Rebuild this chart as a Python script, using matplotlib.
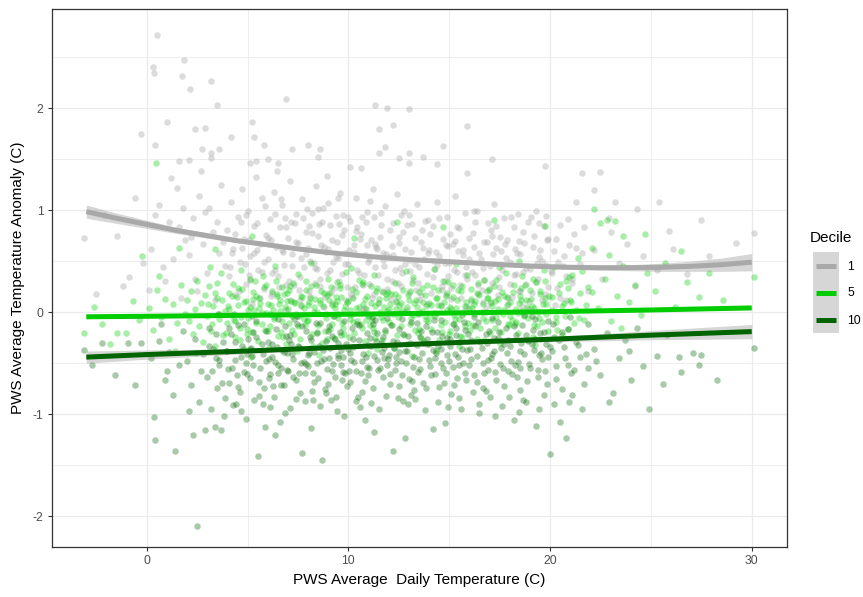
import numpy as np
import matplotlib
matplotlib.use("Agg")
import matplotlib.pyplot as plt
from matplotlib.patches import Rectangle

plt.rcParams['font.family'] = ['Liberation Sans', 'DejaVu Sans']
plt.rcParams['axes.unicode_minus'] = False

# ---------------- data ----------------
deciles = ["1", "5", "10"]
colors = {"1": "#A9A9A9", "5": "#00CD00", "10": "#006400"}

points_d1 = """
0.5,2.72 0.3,2.40 0.35,2.34 1.85,2.47 1.75,2.31 3.2,2.26 2.15,2.19 3.5,2.03 6.9,2.09 11.3,2.03 11.9,2.00 13.0,1.99
-0.3,1.75 1.0,1.86 5.2,1.86 2.4,1.79 2.9,1.80 0.4,1.64 4.2,1.72 11.5,1.79 12.2,1.83 11.8,1.62 11.5,1.56 15.9,1.82
14.7,1.63 13.7,1.52 17.1,1.50 14.4,1.45 19.75,1.43 15.9,1.36 21.6,1.36 22.5,1.37 22.2,1.20 25.4,1.08 21.3,1.08
23.2,1.08 27.5,0.90 30.1,0.78 25.9,0.80 24.3,1.01
2.75,1.6 3.2,1.56 3.6,1.6 5.8,1.64 7.2,1.6 8.0,1.64 8.6,1.6 8.5,1.52 5.3,1.72 6.0,1.5 6.5,1.46 5.4,1.48 5.1,1.46
1.6,1.48 2.1,1.49 3.2,1.51 12.5,1.51 13.0,1.56 13.0,1.46 10.6,1.41 10.1,1.42
-3.1,0.73 -2.5,0.18 -1.5,0.75 -1.2,0.26 -0.9,0.34 -2.1,0.95 -0.6,1.12 -0.2,0.48
0.2,0.62 0.6,1.05 0.9,0.31 1.1,0.88 1.3,0.52 1.5,1.22 1.7,0.14 0.4,0.95 1.9,0.71 0.8,0.44 1.2,1.31 1.6,0.83 0.1,0.22 1.8,1.02
2.1,0.56 2.3,0.92 2.5,0.21 2.6,1.14 2.8,0.67 3.0,0.38 3.1,1.02 3.3,0.79 3.4,0.12 3.6,0.58 3.7,1.25 3.9,0.45 2.2,0.74
2.9,0.98 3.5,0.88 2.4,0.33 3.8,0.69 2.7,1.38
4.0,0.81 4.1,0.35 4.2,1.08 4.3,0.62 4.4,0.17 4.5,0.93 4.6,0.49 4.7,1.21 4.8,0.72 4.9,0.28 5.0,0.99 5.1,0.55 5.2,0.08
5.3,0.84 5.4,1.32 5.5,0.41 5.6,0.67 5.7,1.12 5.8,0.23 5.9,0.76 4.25,0.58 4.65,0.88 5.05,0.36 5.45,0.61 5.85,1.04 4.85,0.47
6.0,0.52 6.1,0.91 6.2,0.19 6.3,1.18 6.4,0.64 6.5,0.35 6.6,0.83 6.7,1.05 6.8,0.46 6.9,0.02 7.0,0.73 7.1,1.29 7.2,0.57
7.3,0.27 7.4,0.96 7.5,0.68 7.6,0.12 7.7,1.11 7.8,0.44 7.9,0.79 6.15,0.71 6.45,1.38 6.75,0.59 7.05,0.31 7.35,0.87
7.65,0.53 7.95,1.01 6.35,0.41 6.85,0.92 7.55,0.22
8.0,0.63 8.1,0.16 8.2,0.97 8.3,0.48 8.4,1.24 8.5,0.75 8.6,0.33 8.7,0.88 8.8,0.05 8.9,0.59 9.0,1.07 9.1,0.41 9.2,0.71
9.3,0.24 9.4,0.94 9.5,0.53 9.6,1.17 9.7,0.37 9.8,0.81 9.9,0.12 8.05,0.84 8.35,0.29 8.65,0.66 8.95,1.33 9.25,0.49
9.55,0.86 9.85,0.58 8.45,0.42 8.75,1.02 9.15,0.19 9.45,0.69 9.75,0.95
10.0,0.47 10.1,0.89 10.2,0.15 10.3,0.66 10.4,1.12 10.5,0.38 10.6,0.77 10.7,0.03 10.8,0.56 10.9,0.98 11.0,0.28
11.1,0.71 11.2,1.21 11.3,0.44 11.4,0.62 11.5,0.09 11.6,0.85 11.7,0.51 11.8,1.04 11.9,0.33 10.05,0.61 10.35,0.25
10.65,0.93 10.95,0.49 11.25,0.18 11.55,0.74 11.85,0.57 10.45,0.83 10.75,0.36 11.05,1.09 11.35,0.64 11.65,0.21
12.0,0.54 12.1,0.13 12.2,0.87 12.3,0.41 12.4,1.16 12.5,0.68 12.6,0.26 12.7,0.79 12.8,0.47 12.9,0.02 13.0,0.95
13.1,0.59 13.2,0.32 13.3,0.73 13.4,1.06 13.5,0.44 13.6,0.17 13.7,0.63 13.8,0.89 13.9,0.37 12.15,0.65 12.45,0.29
12.75,0.99 13.05,0.51 13.35,0.22 13.65,0.81 13.95,0.58 12.55,0.43
14.0,0.61 14.1,0.19 14.2,0.84 14.3,0.42 14.4,1.08 14.5,0.55 14.6,0.07 14.7,0.72 14.8,0.31 14.9,0.93 15.0,0.48
15.1,0.24 15.2,0.67 15.3,1.14 15.4,0.39 15.5,0.82 15.6,0.14 15.7,0.56 15.8,0.97 15.9,0.33 14.25,0.5 14.65,0.26
15.05,0.77 15.45,0.6 15.85,0.44 14.85,0.66
16.0,0.52 16.1,0.11 16.2,0.78 16.3,0.36 16.4,0.99 16.5,0.58 16.6,0.22 16.7,0.69 16.8,0.04 16.9,0.87 17.0,0.45
17.1,0.29 17.2,1.06 17.3,0.63 17.4,0.17 17.5,0.74 17.6,0.41 17.7,0.92 17.8,0.53 17.9,0.08 16.25,0.64 16.65,0.43
17.05,0.81 17.45,0.34 17.85,0.71 16.45,0.27
18.0,0.49 18.1,0.15 18.2,0.83 18.3,0.37 18.4,0.96 18.5,0.57 18.6,0.06 18.7,0.68 18.8,0.28 18.9,0.88 19.0,0.42
19.1,0.19 19.2,0.75 19.3,0.99 19.4,0.33 19.5,0.61 19.6,0.12 19.7,0.84 19.8,0.46 19.9,0.25 18.25,0.62 18.65,0.39
19.05,0.93 19.45,0.54 19.85,0.71 18.45,0.21
20.1,0.38 20.3,0.72 20.5,0.14 20.7,0.55 20.9,0.91 21.1,0.29 21.3,0.63 21.5,0.47 21.7,0.83 21.9,0.21 20.4,0.49
20.8,0.35 21.2,0.77 21.6,0.58
22.2,0.61 22.6,0.33 23.0,0.79 23.4,0.48 23.8,0.67 24.2,0.26 24.6,0.55 22.9,0.92
25.3,0.41 26.1,0.62 26.8,0.37 27.9,0.55 29.2,0.68
4.15,0.44 4.38,0.77 4.55,0.21 4.72,0.63 4.93,0.95 5.12,0.32 5.33,0.58 5.48,0.87 5.62,0.14 5.81,0.49
6.03,0.73 6.22,0.38 6.38,0.96 6.57,0.25 6.71,0.61 6.92,0.83 7.08,0.12 7.22,0.45 7.41,0.69 7.58,0.34
7.73,0.92 7.88,0.57 8.03,0.21 8.18,0.78 8.32,0.43 8.47,1.01 8.61,0.26 8.78,0.64 8.92,0.38 9.07,0.85
9.21,0.09 9.36,0.54 9.52,0.31 9.67,0.76 9.81,0.47 9.96,0.93 10.11,0.18 10.26,0.59 10.41,0.41 10.57,0.72
10.72,0.27 10.87,0.88 11.02,0.52 11.17,0.14 11.32,0.67 11.48,0.36 11.63,0.97 11.78,0.45 11.93,0.23 12.08,0.81
12.23,0.56 12.38,0.11 12.53,0.74 12.68,0.38 12.83,0.62 12.98,0.19 13.13,0.86 13.28,0.47 13.43,0.29 13.58,0.69
13.73,0.52 13.88,0.08 14.03,0.77 14.18,0.34 14.33,0.59 14.48,0.92 14.63,0.22 14.78,0.48 14.93,0.65 15.08,0.13
15.23,0.41 15.38,0.83 15.53,0.27 15.68,0.61 15.83,0.05 15.98,0.73 16.13,0.39 16.28,0.88 16.43,0.18 16.58,0.52
16.73,0.32 16.88,0.69 17.03,0.09 17.18,0.57 17.33,0.84 17.48,0.25 17.63,0.46 17.78,0.67 17.93,0.14 18.08,0.93
18.23,0.36 18.38,0.58 18.53,0.21 18.68,0.79 18.83,0.43 18.98,0.11 19.13,0.64 19.28,0.3 19.43,0.87 19.58,0.5
19.73,0.18 19.88,0.72 20.03,0.4 20.18,0.6 20.33,0.24 20.48,0.85 20.63,0.45 20.78,0.12 20.93,0.66 21.08,0.33
5.06,0.71 5.71,0.39 6.14,0.16 6.66,1.11 7.16,0.88 7.66,0.06 8.11,0.5 8.56,0.86 9.01,0.62 9.46,1.12
9.91,0.25 10.36,0.8 10.81,0.04 11.26,0.93 11.71,0.58 12.16,0.31 12.61,0.95 13.06,0.4 13.51,0.12 13.96,0.9
14.41,0.46 14.86,0.17 15.31,0.7 15.76,0.36 16.21,0.99 16.66,0.1 17.11,0.75 17.56,0.6 18.01,0.28 18.46,0.7
18.91,0.03 19.36,0.48 19.81,0.94 20.26,0.07 6.88,0.27 8.84,0.15 10.93,0.66 12.91,0.85 14.96,0.35 16.95,0.22
"""

points_d5 = """
-3.1,-0.2 -2.6,0.05 -2.2,-0.12 -1.5,-0.2 -1.05,-0.2 -0.7,0.11 -0.4,-0.08 -1.8,-0.31
0.1,0.04 0.3,-0.17 0.5,0.22 0.7,-0.05 0.9,0.13 1.1,-0.26 1.3,0.08 1.5,-0.11 1.7,0.27 1.9,-0.02 0.6,0.35 1.4,-0.38
2.0,0.12 2.1,-0.09 2.2,0.21 2.3,-0.21 2.4,0.03 2.5,0.31 2.6,-0.14 2.7,0.09 2.8,-0.29 2.9,0.17 3.0,-0.04 3.1,0.26
3.2,-0.18 3.3,0.06 3.4,-0.33 3.5,0.14 3.6,-0.07 3.7,0.38 3.8,-0.22 3.9,0.01 2.45,-0.4 3.15,0.44
4.0,-0.11 4.1,0.19 4.2,-0.03 4.3,0.28 4.4,-0.24 4.5,0.07 4.6,-0.15 4.7,0.23 4.8,-0.36 4.9,0.11 5.0,-0.06 5.1,0.33
5.2,-0.19 5.3,0.02 5.4,0.16 5.5,-0.28 5.6,0.09 5.7,-0.12 5.8,0.25 5.9,-0.01 4.05,0.06 4.35,-0.08 4.65,0.41
4.95,-0.21 5.25,0.13 5.55,0.04 5.85,-0.17 4.45,0.15 5.15,-0.44 5.75,0.35
6.0,0.08 6.1,-0.14 6.2,0.21 6.3,-0.05 6.4,0.31 6.5,-0.23 6.6,0.12 6.7,-0.09 6.8,0.18 6.9,-0.31 7.0,0.03 7.1,0.26
7.2,-0.17 7.3,0.1 7.4,-0.02 7.5,0.37 7.6,-0.26 7.7,0.15 7.8,-0.07 7.9,0.22 6.05,-0.35 6.25,0.02 6.45,0.16
6.65,-0.19 6.85,0.05 7.05,-0.11 7.25,0.29 7.45,-0.38 7.65,0.07 7.85,-0.13 6.35,0.45 6.95,0.19 7.55,-0.04 7.15,0.11
8.0,-0.08 8.1,0.14 8.2,-0.21 8.3,0.05 8.4,0.27 8.5,-0.13 8.6,0.09 8.7,-0.3 8.8,0.19 8.9,-0.02 9.0,0.33 9.1,-0.16
9.2,0.07 9.3,-0.25 9.4,0.15 9.5,-0.06 9.6,0.24 9.7,-0.11 9.8,0.02 9.9,0.39 8.05,0.1 8.25,-0.33 8.45,0.0 8.65,0.21
8.85,-0.18 9.05,0.12 9.25,-0.04 9.45,0.3 9.65,-0.22 9.85,0.06 8.15,0.48 8.55,-0.42 8.95,0.17 9.35,0.04 9.75,-0.15 9.15,0.25
10.0,0.11 10.1,-0.07 10.2,0.23 10.3,-0.2 10.4,0.04 10.5,0.32 10.6,-0.12 10.7,0.08 10.8,-0.28 10.9,0.16 11.0,-0.03
11.1,0.26 11.2,-0.15 11.3,0.06 11.4,-0.36 11.5,0.13 11.6,-0.05 11.7,0.2 11.8,-0.19 11.9,0.01 10.05,-0.24 10.25,0.14
10.45,-0.09 10.65,0.28 10.85,0.03 11.05,-0.13 11.25,0.36 11.45,0.09 11.65,-0.27 11.85,0.18 10.15,0.43 10.55,-0.01
10.95,-0.4 11.35,0.21 11.75,0.05 11.15,-0.08
12.0,-0.1 12.1,0.18 12.2,-0.02 12.3,0.29 12.4,-0.22 12.5,0.07 12.6,-0.14 12.7,0.22 12.8,0.0 12.9,-0.31 13.0,0.12
13.1,-0.06 13.2,0.34 13.3,-0.17 13.4,0.05 13.5,0.2 13.6,-0.25 13.7,0.1 13.8,-0.04 13.9,0.27 12.05,0.08 12.25,-0.35
12.45,0.15 12.65,0.02 12.85,0.4 13.05,-0.12 13.25,0.09 13.45,-0.2 13.65,0.24 13.85,-0.08 12.35,0.03 12.95,0.17
13.55,-0.01 13.15,-0.43
14.0,0.09 14.1,-0.16 14.2,0.25 14.3,-0.04 14.4,0.14 14.5,-0.27 14.6,0.06 14.7,0.31 14.8,-0.1 14.9,0.19 15.0,-0.21
15.1,0.03 15.2,0.27 15.3,-0.07 15.4,0.12 15.5,-0.33 15.6,0.21 15.7,0.0 15.8,-0.14 15.9,0.36 14.05,-0.03 14.25,0.42
14.45,0.07 14.65,-0.19 14.85,0.16 15.05,0.05 15.25,-0.12 15.45,0.22 15.65,-0.24 15.85,0.1 14.35,-0.38 15.35,0.47
16.0,0.04 16.1,0.23 16.2,-0.13 16.3,0.11 16.4,-0.26 16.5,0.17 16.6,0.0 16.7,0.32 16.8,-0.09 16.9,0.14 17.0,-0.2
17.1,0.06 17.2,0.26 17.3,-0.05 17.4,0.13 17.5,-0.3 17.6,0.2 17.7,0.02 17.8,0.38 17.9,-0.12 16.05,-0.17 16.25,0.08
16.45,0.29 16.65,-0.06 16.85,0.21 17.05,0.1 17.25,-0.15 17.45,0.44 17.65,-0.02 17.85,0.15
18.0,0.1 18.1,-0.08 18.2,0.27 18.3,0.03 18.4,-0.2 18.5,0.16 18.6,0.35 18.7,-0.04 18.8,0.12 18.9,-0.27 19.0,0.22
19.1,0.06 19.2,-0.13 19.3,0.3 19.4,0.0 19.5,0.18 19.6,-0.1 19.7,0.41 19.8,0.08 19.9,-0.18 18.25,-0.12 18.55,0.24
18.85,0.05 19.15,0.33 19.45,-0.06 19.75,0.14 18.45,0.5 19.25,-0.32
20.1,0.15 20.3,-0.05 20.5,0.28 20.7,0.09 20.9,-0.16 21.1,0.36 21.3,0.02 21.5,0.19 21.7,-0.08 21.9,0.25 20.2,0.44
20.6,-0.22 21.0,0.12 21.4,0.53 21.8,0.07 20.8,0.31 21.2,-0.11 21.6,0.4
22.1,0.2 22.4,0.04 22.7,0.33 23.0,-0.09 23.3,0.16 23.6,0.45 23.9,0.1 24.2,0.27 24.5,-0.03 24.8,0.38 22.9,0.56 23.5,-0.15
25.2,0.21 25.7,0.48 26.2,0.05 26.8,0.3 27.4,0.15 27.9,0.38 28.6,0.12 30.1,0.34
0.45,1.46 -0.25,0.55 1.6,0.63 3.4,0.62 5.2,0.75 10.3,0.73 12.4,0.88 14.7,0.83 17.2,0.9 19.75,0.84 22.2,1.01
22.5,0.87 22.8,0.9 23.2,0.89 23.6,0.75 24.7,0.77 22.1,0.63 26.5,0.6
3.05,0.08 3.22,-0.12 3.38,0.19 3.57,-0.02 3.71,0.12 3.93,-0.2 4.08,0.03 4.21,0.16 4.39,-0.09 4.52,0.24
4.68,-0.05 4.83,0.1 4.97,-0.16 5.11,0.05 5.27,0.2 5.42,-0.11 5.58,0.14 5.73,-0.01 5.89,0.27 6.02,-0.18
6.17,0.07 6.33,-0.07 6.48,0.18 6.63,0.01 6.77,-0.24 6.93,0.11 7.07,0.22 7.21,-0.04 7.37,0.09 7.52,-0.14
7.67,0.16 7.82,0.04 7.97,-0.09 8.12,0.26 8.27,0.0 8.42,-0.19 8.57,0.12 8.72,0.06 8.87,-0.06 9.02,0.19
9.17,-0.12 9.32,0.08 9.47,-0.02 9.62,0.15 9.77,-0.21 9.92,0.1 10.07,0.02 10.22,-0.1 10.37,0.2 10.52,0.05
10.67,-0.15 10.82,0.13 10.97,-0.04 11.12,0.09 11.27,-0.19 11.42,0.24 11.57,0.0 11.72,-0.08 11.87,0.14 12.02,0.03
12.17,-0.13 12.32,0.18 12.47,-0.05 12.62,0.09 12.77,-0.22 12.92,0.05 13.07,0.21 13.22,-0.03 13.37,0.12 13.52,-0.16
13.67,0.01 13.82,0.17 13.97,-0.09 14.12,0.07 14.27,-0.01 14.42,0.22 14.57,-0.13 14.72,0.1 14.87,0.02 15.02,-0.18
15.17,0.15 15.32,0.04 15.47,-0.07 15.62,0.26 15.77,0.06 15.92,-0.11 16.07,0.13 16.22,-0.02 16.37,0.19 16.52,-0.15
16.67,0.08 16.82,0.0 16.97,0.23 17.12,-0.08 17.27,0.11 17.42,0.03 17.57,-0.19 17.72,0.16 17.87,0.07 18.02,-0.04
18.17,0.2 18.32,-0.1 18.47,0.09 18.62,0.01 18.77,0.27 18.92,-0.06 19.07,0.13 19.22,0.04 19.37,-0.14 19.52,0.21
19.67,0.08 19.82,-0.02 19.97,0.16 20.12,0.02 20.27,-0.1 20.42,0.19 20.57,0.06 20.72,-0.04 20.87,0.24 21.02,0.1
3.48,0.29 4.61,-0.27 5.36,0.31 6.09,-0.02 6.71,0.25 7.29,-0.21 7.91,0.31 8.36,0.13 8.93,-0.26 9.56,0.27
10.13,-0.03 10.74,0.3 11.33,-0.25 11.96,0.2 12.54,-0.01 13.14,0.29 13.74,-0.28 14.33,0.14 14.93,0.3 15.53,-0.23
16.13,0.04 16.74,-0.27 17.33,0.32 17.94,-0.13 18.54,0.12 19.14,-0.24 19.74,0.31 20.34,-0.17 20.94,0.34 21.45,-0.06
5.02,0.02 6.56,0.08 8.01,0.07 9.44,0.11 10.88,-0.08 12.38,0.1 13.87,0.06 15.24,-0.03 16.89,0.14 18.41,-0.01
"""

points_d10 = """
-3.1,-0.37 -2.7,-0.52 -2.2,-0.3 -1.6,-0.62 -0.95,-0.3 -0.3,-0.3 -0.6,-0.71
0.35,-1.03 0.4,-1.25 1.4,-1.36 0.2,-0.45 0.6,-0.28 0.9,-0.66 1.1,-0.39 1.3,-0.81 1.6,-0.52 1.8,-0.18 1.0,-0.58 0.7,-0.12
2.3,-1.2 2.9,-1.15 3.4,-1.12 3.7,-1.15 2.5,-2.09 2.0,-0.48 2.2,-0.71 2.4,-0.26 2.6,-0.88 2.8,-0.41 3.0,-0.63
3.1,-0.15 3.2,-0.95 3.3,-0.36 3.5,-0.74 3.6,-0.52 3.8,-0.29 3.9,-0.84 2.1,-0.97 2.7,-0.58 3.45,-0.45 3.85,-1.02
4.0,-0.38 4.1,-0.69 4.2,-0.21 4.3,-0.91 4.4,-0.47 4.5,-0.13 4.6,-0.78 4.7,-0.33 4.8,-0.59 4.9,-1.05 5.0,-0.26
5.1,-0.64 5.2,-0.43 5.3,-0.86 5.4,-0.09 5.5,-1.41 5.6,-0.55 5.7,-0.31 5.8,-0.74 5.9,-0.48 4.05,-0.56 4.35,-0.02
4.65,-0.97 4.95,-0.41 5.25,-0.19 5.55,-0.68 5.85,-1.12 4.45,-0.62 5.15,-0.35 5.75,-0.9
6.0,-0.29 6.1,-0.61 6.2,-0.44 6.3,-0.83 6.4,-0.16 6.5,-0.52 6.6,-1.08 6.7,-0.37 6.8,-0.71 6.9,-0.23 7.0,-0.58
7.1,-0.94 7.2,-0.41 7.3,-0.07 7.4,-0.66 7.5,-0.33 7.6,-0.79 7.7,-1.38 7.8,-0.49 7.9,-0.18 6.05,-0.46 6.25,-0.72
6.45,-0.34 6.65,-0.55 6.85,-0.99 7.05,-0.27 7.25,-0.63 7.45,-0.12 7.65,-0.5 7.85,-0.87 6.35,-1.2 6.95,-0.4 7.55,-0.6 7.15,-0.31
8.0,-0.53 8.1,-0.24 8.2,-0.77 8.3,-0.39 8.4,-0.11 8.5,-0.64 8.6,-0.92 8.7,-1.45 8.8,-0.46 8.9,-0.28 9.0,-0.7
9.1,-0.35 9.2,-0.58 9.3,-0.04 9.4,-0.83 9.5,-0.42 9.6,-0.19 9.7,-0.66 9.8,-1.02 9.9,-0.31 8.05,-0.4 8.25,-0.6
8.45,-0.2 8.65,-0.48 8.85,-0.75 9.05,-0.14 9.25,-0.51 9.45,-0.97 9.65,-0.37 9.85,-0.6 8.15,-1.13 8.55,-0.33
8.95,-0.56 9.35,-0.26 9.75,-0.44 9.15,-0.86
10.0,-0.36 10.1,-0.68 10.2,-0.15 10.3,-0.49 10.4,-0.87 10.5,-0.27 10.6,-0.6 10.7,-0.41 10.8,-1.06 10.9,-0.2
11.0,-0.55 11.1,-0.33 11.2,-0.74 11.3,-0.08 11.4,-0.47 11.5,-0.95 11.6,-0.3 11.7,-0.63 11.8,-0.17 11.9,-0.52
10.05,-0.58 10.25,-0.34 10.45,-0.12 10.65,-0.78 10.85,-0.44 11.05,-0.25 11.25,-1.17 11.45,-0.57 11.65,-0.39
11.85,-0.82 10.15,-0.47 10.55,-0.93 10.95,-0.62 11.35,-0.28 11.75,-0.45 11.15,-0.05
12.0,-0.42 12.1,-0.13 12.2,-1.36 12.3,-0.57 12.4,-0.29 12.5,-0.72 12.6,-0.48 12.7,-0.21 12.8,-1.23 12.9,-0.38
13.0,-0.65 13.1,-0.1 13.2,-0.54 13.3,-0.85 13.4,-0.32 13.5,-0.46 13.6,-0.18 13.7,-0.69 13.8,-0.96 13.9,-0.26
12.05,-0.61 12.25,-0.35 12.45,-0.84 12.65,-0.07 12.85,-0.5 13.05,-0.3 13.25,-0.76 13.45,-0.59 13.65,-0.4
13.85,-0.14 12.35,-0.44 12.95,-0.9 13.55,-0.24 13.15,-0.67
14.0,-0.31 14.1,-0.62 14.2,-1.14 14.3,-0.45 14.4,-0.19 14.5,-0.73 14.6,-0.36 14.7,-0.55 14.8,-1.09 14.9,-0.25
15.0,-0.48 15.1,-0.8 15.2,-0.12 15.3,-0.41 15.4,-0.64 15.5,-0.29 15.6,-0.95 15.7,-0.5 15.8,-0.17 15.9,-0.37
14.05,-0.53 14.25,-0.08 14.45,-0.88 14.65,-0.23 14.85,-0.6 15.05,-0.33 15.25,-0.71 15.45,-0.44 15.65,-0.03
15.85,-0.66 14.35,-0.4 15.35,-0.22
16.0,-0.52 16.1,-0.27 16.2,-0.78 16.3,-0.14 16.4,-0.43 16.5,-0.99 16.6,-0.35 16.7,-0.6 16.8,-0.21 16.9,-0.47
17.0,-0.83 17.1,-0.06 17.2,-0.38 17.3,-0.66 17.4,-0.25 17.5,-0.51 17.6,-0.92 17.7,-0.31 17.8,-0.15 17.9,-0.58
16.05,-0.36 16.25,-0.62 16.45,-0.1 16.65,-0.74 16.85,-0.3 17.05,-0.45 17.25,-1.02 17.45,-0.19 17.65,-0.55 17.85,-0.4
18.0,-0.33 18.1,-0.61 18.2,-1.06 18.3,-0.22 18.4,-0.49 18.5,-0.76 18.6,-0.13 18.7,-0.41 18.8,-0.88 18.9,-0.28
19.0,-0.55 19.1,-0.04 19.2,-0.37 19.3,-1.11 19.4,-0.63 19.5,-0.2 19.6,-0.46 19.7,-0.81 19.8,-0.31 19.9,-0.09
18.25,-0.52 18.55,-0.3 18.85,-0.67 19.15,-0.17 19.45,-0.42 19.75,-0.58 18.45,-0.98 19.25,-0.26
20.0,-1.39 20.5,-1.08 20.8,-1.23 20.1,-0.38 20.3,-0.65 20.6,-0.19 20.9,-0.52 21.1,-0.81 21.3,-0.29 21.5,-0.44
21.7,-0.7 21.9,-0.12 20.2,-0.9 20.7,-0.34 21.2,-0.57 21.6,-0.95 21.0,-0.05 21.8,-0.41
22.2,-0.36 22.5,-0.62 22.8,-0.2 23.1,-0.79 23.4,-0.45 23.7,-0.27 24.0,-0.66 24.3,-0.15 24.6,-0.53 24.9,-0.95
22.9,-0.88 23.9,-0.38
25.3,-0.43 25.8,-0.22 26.4,-0.44 26.5,-0.59 27.1,-0.4 27.4,-0.52 27.5,-0.42 28.3,-0.66 30.1,-0.35 25.6,-0.7
3.07,-0.33 3.24,-0.58 3.41,-0.21 3.58,-0.47 3.74,-0.69 3.91,-0.38 4.06,-0.15 4.22,-0.55 4.37,-0.29 4.53,-0.73
4.69,-0.44 4.84,-0.12 4.99,-0.61 5.14,-0.36 5.29,-0.52 5.44,-0.24 5.59,-0.82 5.74,-0.41 5.89,-0.18 6.04,-0.64
6.19,-0.31 6.34,-0.49 6.49,-0.07 6.64,-0.71 6.79,-0.39 6.94,-0.57 7.09,-0.22 7.24,-0.46 7.39,-0.85 7.54,-0.34
7.69,-0.14 7.84,-0.6 7.99,-0.42 8.14,-0.27 8.29,-0.68 8.44,-0.5 8.59,-0.11 8.74,-0.37 8.89,-0.79 9.04,-0.45
9.19,-0.23 9.34,-0.63 9.49,-0.3 9.64,-0.52 9.79,-0.09 9.94,-0.72 10.09,-0.4 10.24,-0.26 10.39,-0.58 10.54,-0.13
10.69,-0.48 10.84,-0.67 10.99,-0.32 11.14,-0.89 11.29,-0.43 11.44,-0.2 11.59,-0.55 11.74,-0.35 11.89,-0.06 12.04,-0.7
12.19,-0.28 12.34,-0.5 12.49,-0.16 12.64,-0.62 12.79,-0.38 12.94,-0.23 13.09,-0.81 13.24,-0.44 13.39,-0.11 13.54,-0.56
13.69,-0.3 13.84,-0.74 13.99,-0.47 14.14,-0.19 14.29,-0.61 14.44,-0.33 14.59,-0.08 14.74,-0.69 14.89,-0.42 15.04,-0.26
15.19,-0.54 15.34,-0.15 15.49,-0.84 15.64,-0.36 15.79,-0.6 15.94,-0.21 16.09,-0.46 16.24,-0.05 16.39,-0.68 16.54,-0.29
16.69,-0.5 16.84,-0.77 16.99,-0.18 17.14,-0.41 17.29,-0.59 17.44,-0.1 17.59,-0.35 17.74,-0.72 17.89,-0.27 18.04,-0.48
18.19,-0.14 18.34,-0.63 18.49,-0.38 18.64,-0.86 18.79,-0.22 18.94,-0.51 19.09,-0.31 19.24,-0.07 19.39,-0.57 19.54,-0.4
19.69,-0.19 19.84,-0.7 19.99,-0.34 20.14,-0.12 20.29,-0.53 20.44,-0.27 20.59,-0.75 20.74,-0.45 20.89,-0.16 21.04,-0.6
3.52,-0.02 4.44,-0.9 5.21,-0.04 6.12,-0.93 6.86,-0.14 7.47,-0.04 8.22,-0.86 8.97,-0.18 9.71,-0.59 10.46,-0.83
11.21,-0.12 11.97,-0.46 12.71,-0.87 13.46,-0.02 14.21,-0.37 14.96,-0.93 15.71,-0.1 16.46,-0.9 17.21,-0.25 17.96,-0.83
18.71,-0.03 19.46,-0.95 20.21,-0.24 20.96,-0.88 21.4,-0.32 21.9,-0.55 22.3,-0.48 4.9,-0.5 7.9,-0.51 10.9,-0.54
13.9,-0.31 16.9,-0.57 19.9,-0.44 6.5,-0.6 9.5,-0.45 12.5,-0.39 15.5,-0.52 18.5,-0.55 11.7,-0.24 14.6,-0.5
"""

# smoothed fits (loess for decile 1, linear for 5 and 10) with CI half-widths
smooth_x_d1 = [-3, -1.5, 0, 1.5, 3, 4.5, 6, 7.5, 9, 10.5, 12, 13.5, 15, 16.5, 18, 19.5, 21, 22.5, 24, 25.5, 27, 28.5, 30]
smooth_y_d1 = [0.985, 0.92, 0.86, 0.80, 0.75, 0.70, 0.66, 0.62, 0.585, 0.555, 0.53, 0.51, 0.495, 0.478, 0.462,
               0.448, 0.44, 0.436, 0.436, 0.44, 0.45, 0.465, 0.49]
smooth_se_d1 = [0.065, 0.05, 0.04, 0.03, 0.025, 0.02, 0.018, 0.016, 0.015, 0.015, 0.015, 0.015, 0.015, 0.015,
                0.016, 0.018, 0.02, 0.025, 0.03, 0.04, 0.05, 0.065, 0.085]

smooth_x_lm = [-3, 0, 5, 10, 15, 20, 25, 30]
smooth_y_d5 = [-0.045, -0.04, -0.03, -0.02, -0.008, 0.005, 0.022, 0.042]
smooth_se_d5 = [0.018, 0.014, 0.009, 0.006, 0.006, 0.008, 0.012, 0.018]
smooth_y_d10 = [-0.44, -0.415, -0.38, -0.34, -0.30, -0.265, -0.225, -0.19]
smooth_se_d10 = [0.06, 0.045, 0.025, 0.012, 0.012, 0.025, 0.045, 0.07]

x_ticks = [0, 10, 20, 30]
y_ticks = [-2, -1, 0, 1, 2]
x_tick_labels = ["0", "10", "20", "30"]
y_tick_labels = ["-2", "-1", "0", "1", "2"]


def parse(s):
    arr = np.array([[float(v) for v in p.split(',')] for p in s.split()])
    return arr[:, 0], arr[:, 1]


# ---------------- figure ----------------
W, H = 863, 597
fig = plt.figure(figsize=(W / 100, H / 100), dpi=100)
L, R, T, B = 52, 787, 9, 547
ax = fig.add_axes([L / W, 1 - B / H, (R - L) / W, (B - T) / H])

ax.set_xlim(-4.7, 31.75)
ax.set_ylim(-2.30, 2.97)

# grid
for xv in [0, 10, 20, 30]:
    ax.axvline(xv, color="#EBEBEB", lw=0.9, zorder=0)
for xv in [5, 15, 25]:
    ax.axvline(xv, color="#EBEBEB", lw=0.6, zorder=0)
for yv in [-2, -1, 0, 1, 2]:
    ax.axhline(yv, color="#EBEBEB", lw=0.9, zorder=0)
for yv in [-1.5, -0.5, 0.5, 1.5, 2.5]:
    ax.axhline(yv, color="#EBEBEB", lw=0.6, zorder=0)

pts = {"1": parse(points_d1), "5": parse(points_d5), "10": parse(points_d10)}
alphas = {"1": 0.4, "5": 0.34, "10": 0.34}
for d in deciles:
    x, y = pts[d]
    ax.scatter(x, y, s=22, color=colors[d], alpha=alphas[d], linewidths=0, zorder=2)

fits = [
    ("1", smooth_x_d1, smooth_y_d1, smooth_se_d1),
    ("5", smooth_x_lm, smooth_y_d5, smooth_se_d5),
    ("10", smooth_x_lm, smooth_y_d10, smooth_se_d10),
]
for d, sx, sy, se in fits:
    sx = np.array(sx); sy = np.array(sy); se = np.array(se)
    ax.fill_between(sx, sy - se, sy + se, color="#999999", alpha=0.4, lw=0, zorder=3)
    ax.plot(sx, sy, color=colors[d], lw=3.6, solid_capstyle="butt", zorder=4)

ax.set_xticks(x_ticks)
ax.set_xticklabels(x_tick_labels)
ax.set_yticks(y_ticks)
ax.set_yticklabels(y_tick_labels)
ax.tick_params(axis="both", length=3, width=0.8, color="#333333", labelcolor="#4D4D4D",
               labelsize=8.8, pad=3)
for sp in ax.spines.values():
    sp.set_color("#333333")
    sp.set_linewidth(0.9)

ax.set_xlabel("PWS Average  Daily Temperature (C)", fontsize=11, color="black", labelpad=4)
ax.set_ylabel("PWS Average Temperature Anomaly (C)", fontsize=11, color="black", labelpad=6)

# ---------------- legend (drawn in pixel coordinates) ----------------
lax = fig.add_axes([0, 0, 1, 1], zorder=5)
lax.set_xlim(0, W)
lax.set_ylim(H, 0)
lax.axis("off")
lax.text(810, 238, "Decile", fontsize=11, va="center", ha="left")
key_top = 252
key_h = 27
for i, d in enumerate(deciles):
    y0 = key_top + i * key_h
    lax.add_patch(Rectangle((813, y0), 26, key_h, facecolor="#D6D6D6", edgecolor="none"))
    yc = y0 + key_h / 2
    lax.plot([816, 836], [yc, yc], color=colors[d], lw=3.6, solid_capstyle="butt")
    lax.text(847, yc + 1, d, fontsize=8.8, va="center", ha="left")

fig.savefig("out.png", dpi=100)
